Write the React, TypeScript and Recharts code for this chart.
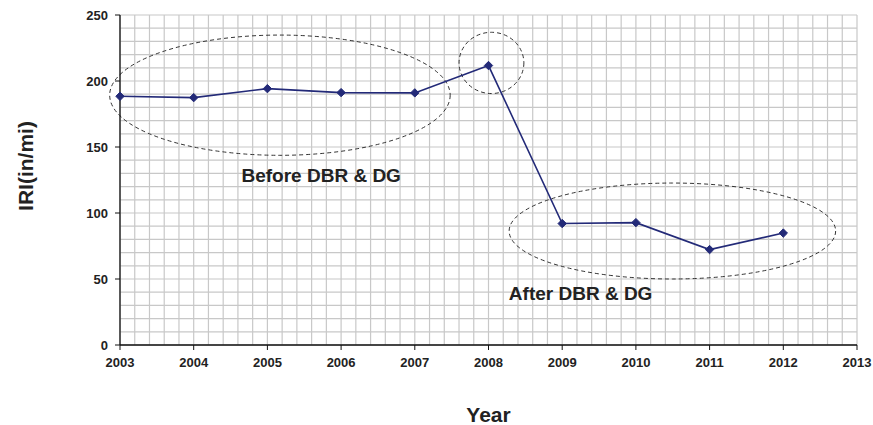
import {
  LineChart,
  Line,
  XAxis,
  YAxis,
  CartesianGrid,
  ReferenceArea,
  ReferenceDot,
} from 'recharts'

// values
const years = [2003, 2004, 2005, 2006, 2007, 2008, 2009, 2010, 2011, 2012]
const iri = [188.4, 187.4, 194.2, 191.2, 191.0, 211.7, 92.0, 92.7, 72.3, 84.8]

const xTicks = [2003, 2004, 2005, 2006, 2007, 2008, 2009, 2010, 2011, 2012, 2013]
const yTicks = [0, 50, 100, 150, 200, 250]

// minor grid: 5 divisions per major step
const xGrid = xTicks.slice(0, -1).flatMap((t) => [t, t + 0.2, t + 0.4, t + 0.6, t + 0.8]).concat([2013])
const yGrid = yTicks.slice(0, -1).flatMap((t) => [t, t + 10, t + 20, t + 30, t + 40]).concat([250])

// dashed ellipses, bounding boxes in data units
const ellipses = [
  { x1: 2002.86, x2: 2007.48, y1: 143.7, y2: 234.8 },
  { x1: 2007.6, x2: 2008.48, y1: 190.5, y2: 236.9 },
  { x1: 2008.28, x2: 2012.71, y1: 50.0, y2: 122.7 },
]

const notes = [
  { x: 2005.73, y: 128.6, text: 'Before DBR & DG' },
  { x: 2009.25, y: 39.2, text: 'After DBR & DG' },
]

const data = years.map((year, i) => ({ year, iri: iri[i] }))

const FONT = 'Arial, "Liberation Sans", sans-serif'
const NAVY = '#232a78'

function Diamond(props: any) {
  const { cx, cy } = props
  if (cx == null || cy == null) return null
  const r = 4.2
  return (
    <polygon
      points={`${cx},${cy - r} ${cx + r},${cy} ${cx},${cy + r} ${cx - r},${cy}`}
      fill={NAVY}
      stroke={NAVY}
    />
  )
}

function EllipseShape(props: any) {
  const { x, y, width, height } = props
  return (
    <ellipse
      cx={x + width / 2}
      cy={y + height / 2}
      rx={Math.abs(width) / 2}
      ry={Math.abs(height) / 2}
      fill="none"
      stroke="#333"
      strokeWidth={1}
      strokeDasharray="4 3"
    />
  )
}

const tickStyle = { fontFamily: FONT, fontSize: 13, fontWeight: 700, fill: '#222' }

export default function App() {
  return (
    <div>
      <style>{'body{margin:0}'}</style>
      <LineChart
        width={873}
        height={425}
        data={data}
        margin={{ top: 15, right: 16, left: 0, bottom: 0 }}
      >
        <CartesianGrid
          stroke="#c8c8c8"
          strokeWidth={1.2}
          verticalValues={xGrid}
          horizontalValues={yGrid}
        />
        <XAxis
          dataKey="year"
          type="number"
          domain={[2003, 2013]}
          ticks={xTicks}
          interval={0}
          allowDecimals={false}
          height={80}
          tickSize={5}
          tickMargin={8}
          tick={tickStyle}
          axisLine={{ stroke: '#111', strokeWidth: 1.3 }}
          tickLine={{ stroke: '#111' }}
          label={{
            content: (p: any) => {
              const vb = p.viewBox
              return (
                <text
                  x={vb.x + vb.width / 2}
                  y={vb.y + 69}
                  textAnchor="middle"
                  dominantBaseline="central"
                  fontFamily={FONT}
                  fontSize={21}
                  fontWeight={700}
                  fill="#222"
                >
                  Year
                </text>
              )
            },
          }}
        />
        <YAxis
          type="number"
          domain={[0, 250]}
          ticks={yTicks}
          interval={0}
          width={120}
          tickSize={5}
          tickMargin={7}
          tick={tickStyle}
          axisLine={{ stroke: '#111', strokeWidth: 1.3 }}
          tickLine={{ stroke: '#111' }}
          label={{
            content: (p: any) => {
              const vb = p.viewBox
              const cx = vb.x + 25
              const cy = vb.y + vb.height / 2 - 14
              return (
                <text
                  x={cx}
                  y={cy}
                  transform={`rotate(-90, ${cx}, ${cy})`}
                  textAnchor="middle"
                  dominantBaseline="central"
                  fontFamily={FONT}
                  fontSize={21}
                  fontWeight={700}
                  fill="#222"
                >
                  IRI(in/mi)
                </text>
              )
            },
          }}
        />
        {ellipses.map((e, i) => (
          <ReferenceArea
            key={i}
            x1={e.x1}
            x2={e.x2}
            y1={e.y1}
            y2={e.y2}
            ifOverflow="visible"
            shape={<EllipseShape />}
          />
        ))}
        {notes.map((n, i) => (
          <ReferenceDot
            key={'n' + i}
            x={n.x}
            y={n.y}
            ifOverflow="visible"
            shape={(p: any) => (
              <text
                x={p.cx}
                y={p.cy}
                textAnchor="middle"
                dominantBaseline="central"
                fontFamily={FONT}
                fontSize={19}
                fontWeight={700}
                fill="#222"
              >
                {n.text}
              </text>
            )}
          />
        ))}
        <Line
          type="linear"
          dataKey="iri"
          stroke={NAVY}
          strokeWidth={1.6}
          dot={<Diamond />}
          activeDot={false}
          isAnimationActive={false}
        />
      </LineChart>
    </div>
  )
}
